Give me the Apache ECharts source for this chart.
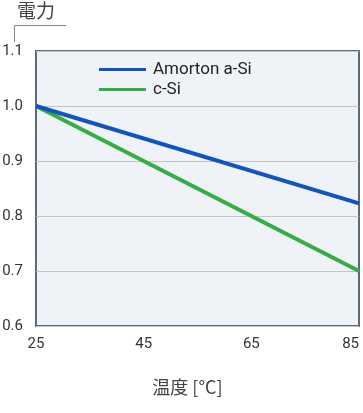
<!DOCTYPE html>
<html><head><meta charset="utf-8">
<script src="https://cdn.jsdelivr.net/npm/echarts@6/dist/echarts.min.js"></script>
<style>html,body{margin:0;padding:0;background:#fff;overflow:hidden}#c{width:363px;height:413px}</style>
</head><body><div id="c"></div>
<script>
const temps = [25, 85];
const seriesNames = ['Amorton a-Si', 'c-Si'];
const amortonASi = [1.0, 0.823];
const cSi = [1.0, 0.70];
const xTicks = [25, 45, 65, 85];
const yTicks = [0.6, 0.7, 0.8, 0.9, 1.0, 1.1];
const xBase = 25;
const xTitle = '温度 [°C]';
const yTitle = '電力';

const chart = echarts.init(document.getElementById('c'), null, {width: 363, height: 413});
const font = '"Noto Sans CJK JP", "Noto Sans", sans-serif';
chart.setOption({
  animation: false,
  textStyle: {fontFamily: font},
  grid: {left: 36, right: 4, top: 51, bottom: 87, show: true, backgroundColor: '#eff3f7', borderColor: '#5b6b79', borderWidth: 2, containLabel: false, outerBoundsMode: 'none'},
  legend: {
    left: 99, top: 61, padding: 0, orient: 'vertical', icon: 'rect', itemWidth: 47, itemHeight: 3, itemGap: 3,
    textStyle: {fontSize: 17, color: '#222', fontFamily: 'Roboto, "Noto Sans", sans-serif', padding: [0, 0, 0, 2]},
    data: seriesNames
  },
  xAxis: {
    type: 'value', min: 0, max: xTicks[xTicks.length-1] - xBase, interval: 20,
    axisLine: {show: false}, axisTick: {show: false}, splitLine: {show: false},
    axisLabel: {margin: 11, fontSize: 15, color: '#333', fontFamily: 'Roboto, "Noto Sans", sans-serif', alignMaxLabel: 'right', formatter: v => String(v + xBase)}
  },
  yAxis: {
    type: 'value', min: yTicks[0], max: yTicks[yTicks.length-1], interval: 0.1,
    axisLine: {show: false}, axisTick: {show: false},
    splitLine: {show: true, lineStyle: {color: '#c4c4c4', width: 1}},
    axisLabel: {margin: 13, fontSize: 15, color: '#333', fontFamily: 'Roboto, "Noto Sans", sans-serif', formatter: v => v.toFixed(1)}
  },
  graphic: [
    {type: 'text', x: 17, y: 1, style: {text: yTitle, fontSize: 19, fill: '#444', fontFamily: font}},
    {type: 'polyline', shape: {points: [[14.5, 42], [14.5, 25.5], [66, 25.5]]}, style: {stroke: '#888', lineWidth: 1, fill: null}},
    {type: 'text', x: 187.5, y: 387, style: {text: xTitle, fontSize: 18, fill: '#444', fontFamily: font, align: 'center', verticalAlign: 'middle'}}
  ],
  series: [
    {name: seriesNames[0], type: 'line', showSymbol: false, symbol: 'none', data: temps.map((t, i) => [t - xBase, amortonASi[i]]), lineStyle: {color: '#1254bb', width: 4}, itemStyle: {color: '#1254bb'}, z: 3},
    {name: seriesNames[1], type: 'line', showSymbol: false, symbol: 'none', data: temps.map((t, i) => [t - xBase, cSi[i]]), lineStyle: {color: '#35ad45', width: 4}, itemStyle: {color: '#35ad45'}, z: 2}
  ]
});
</script></body></html>
